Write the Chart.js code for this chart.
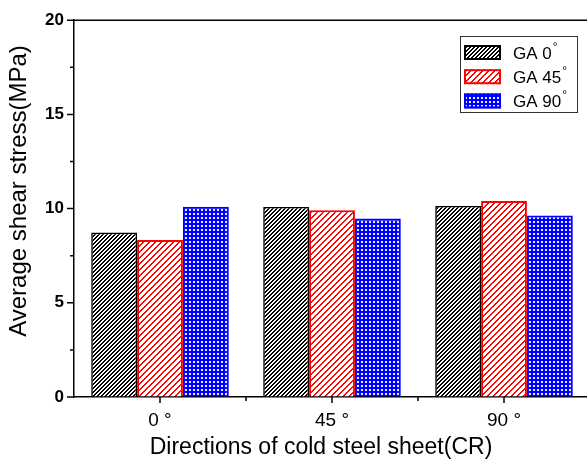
<!DOCTYPE html>
<html>
<head>
<meta charset="utf-8">
<script src="https://cdn.jsdelivr.net/npm/chart.js@4"></script>
<style>
  html, body { margin: 0; padding: 0; overflow: hidden; background: #fff; }
</style>
</head>
<body>
<canvas id="myChart" width="600" height="460"></canvas>
<script>
const directions = ['0 °', '45 °', '90 °'];
const seriesNames = ['GA 0', 'GA 45', 'GA 90'];
const ga0 = [8.73, 10.09, 10.14];
const ga45 = [8.33, 9.91, 10.41];
const ga90 = [10.10, 9.47, 9.63];
const yMajor = [0, 5, 10, 15, 20];

// pixel hatch, "/" stripes
function hatch(color, p, w) {
  const c = document.createElement('canvas');
  c.width = p; c.height = p;
  const g = c.getContext('2d');
  g.fillStyle = '#fff';
  g.fillRect(0, 0, p, p);
  g.fillStyle = color;
  for (let x = 0; x < p; x++)
    for (let y = 0; y < p; y++)
      if ((x + y) % p < w) g.fillRect(x, y, 1, 1);
  return g.createPattern(c, 'repeat');
}
function dots() {
  const c = document.createElement('canvas');
  c.width = 4; c.height = 4;
  const g = c.getContext('2d');
  g.fillStyle = '#0000ff';
  g.fillRect(0, 0, 4, 4);
  g.fillStyle = 'rgba(255,255,255,0.9)';
  g.fillRect(1, 1, 2, 2);
  return g.createPattern(c, 'repeat');
}

const fills = [hatch('#000', 4, 2), hatch('#ff0000', 6, 2), dots()];
const edges = ['#000000', '#ff0000', '#0000ff'];

const decor = {
  id: 'decor',
  afterDraw(chart) {
    const ctx = chart.ctx;
    const a = chart.chartArea;
    const x = chart.scales.x, y = chart.scales.y;
    ctx.save();
    ctx.strokeStyle = '#000';
    ctx.lineWidth = 1.5;
    // top frame line
    ctx.beginPath();
    ctx.moveTo(a.left, a.top); ctx.lineTo(a.right, a.top);
    ctx.stroke();
    // y ticks
    ctx.beginPath();
    for (let v = 0; v <= 20; v += 2.5) {
      const py = y.getPixelForValue(v);
      const len = v % 5 === 0 ? 7 : 4;
      ctx.moveTo(a.left - len, py); ctx.lineTo(a.left, py);
    }
    // x ticks
    for (let i = 0; i < directions.length; i++) {
      const px = x.getPixelForValue(i);
      ctx.moveTo(px, a.bottom); ctx.lineTo(px, a.bottom + 6);
      const mx = x.getPixelForValue(i + 0.5);
      ctx.moveTo(mx, a.bottom); ctx.lineTo(mx, a.bottom + 4);
    }
    ctx.stroke();

    // axis titles
    ctx.fillStyle = '#000';
    ctx.font = '23px Arial';
    ctx.textAlign = 'center';
    ctx.textBaseline = 'alphabetic';
    ctx.fillText('Directions of cold steel sheet(CR)', 321, 454);
    ctx.save();
    ctx.translate(26, 191);
    ctx.rotate(-Math.PI / 2);
    ctx.font = '24px Arial';
    ctx.fillText('Average shear stress(MPa)', 0, 0);
    ctx.restore();

    // legend
    ctx.lineWidth = 1;
    ctx.strokeStyle = '#333';
    ctx.strokeRect(460.5, 36.5, 117, 76);
    chart.data.datasets.forEach((ds, i) => {
      const top = 45 + i * 24.2;
      ctx.fillStyle = ds.backgroundColor;
      ctx.fillRect(464, top, 37, 15);
      ctx.strokeStyle = ds.borderColor;
      ctx.lineWidth = 2;
      ctx.strokeRect(465, top + 1, 35, 13);
      ctx.fillStyle = '#000';
      ctx.font = '17px Arial';
      ctx.textAlign = 'left';
      ctx.fillText(ds.label, 513, top + 14);
      const w = ctx.measureText(ds.label).width;
      ctx.font = '12px Arial';
      ctx.fillText('°', 513 + w + 1, top + 6);
    });
    ctx.restore();
  }
};

const data = {
  labels: directions,
  datasets: [ga0, ga45, ga90].map((vals, i) => ({
    label: seriesNames[i],
    data: vals,
    backgroundColor: fills[i],
    borderColor: edges[i],
    borderWidth: i === 0 ? 1.6 : 2,
    borderSkipped: 'bottom',
    categoryPercentage: 0.8,
    barPercentage: 1.0
  }))
};

const config = {
  type: 'bar',
  data: data,
  options: {
    responsive: false,
    animation: false,
    layout: { padding: { left: 0, top: 18, right: 10, bottom: 0 } },
    plugins: {
      legend: { display: false },
      tooltip: { enabled: false }
    },
    scales: {
      x: {
        offset: true,
        afterFit(s) { s.height = 63; },
        grid: { display: true, drawOnChartArea: false, drawTicks: false },
        border: { color: '#000', width: 1.5 },
        ticks: {
          color: '#000',
          font: { family: 'Arial', size: 19 },
          padding: 12,
          maxRotation: 0
        }
      },
      y: {
        min: 0,
        max: 20,
        afterFit(s) { s.width = 74; },
        afterBuildTicks(s) { s.ticks = yMajor.map(v => ({ value: v })); },
        grid: { display: true, drawOnChartArea: false, drawTicks: false },
        border: { color: '#000', width: 1.5 },
        ticks: {
          color: '#000',
          font: { family: 'Arial', size: 17, weight: 'bold' },
          padding: 10
        }
      }
    }
  },
  plugins: [decor]
};

const myChart = new Chart(document.getElementById('myChart'), config);
</script>
</body>
</html>
